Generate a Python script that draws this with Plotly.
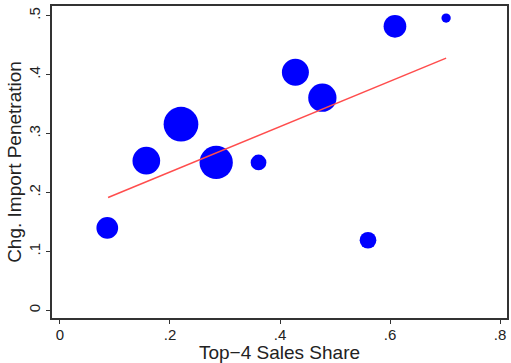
import plotly.graph_objects as go

# Data
top4_share = [0.086, 0.157, 0.220, 0.284, 0.361, 0.428, 0.477, 0.560, 0.609, 0.702]
chg_import = [0.140, 0.254, 0.316, 0.251, 0.251, 0.404, 0.361, 0.119, 0.482, 0.496]
bubble_diam = [21.7, 27.7, 34.7, 33.3, 15.7, 27.0, 28.3, 16.7, 22.7, 9.3]

fit_x = [0.0875, 0.702]
fit_y = [0.1916, 0.428]

x_ticks = [0, 0.2, 0.4, 0.6, 0.8]
x_ticklabels = ["0", ".2", ".4", ".6", ".8"]
y_ticks = [0, 0.1, 0.2, 0.3, 0.4, 0.5]
y_ticklabels = ["0", ".1", ".2", ".3", ".4", ".5"]

fig = go.Figure()
fig.add_trace(go.Scatter(
    x=top4_share, y=chg_import, mode="markers",
    marker=dict(size=bubble_diam, sizemode="diameter", color="#0000ff",
                opacity=1, line=dict(width=0)),
    showlegend=False, hoverinfo="skip"))
fig.add_trace(go.Scatter(
    x=fit_x, y=fit_y, mode="lines",
    line=dict(color="#ff4d4d", width=1.5),
    showlegend=False, hoverinfo="skip"))

font_fam = "Liberation Sans, Arial, Helvetica, sans-serif"
fig.update_layout(
    width=511, height=363,
    margin=dict(l=52, r=2, t=6, b=42),
    paper_bgcolor="white", plot_bgcolor="white",
    font=dict(family=font_fam, size=16, color="#222222"),
    xaxis=dict(range=[-0.0145, 0.8127], tickvals=x_ticks, ticktext=x_ticklabels,
               showgrid=False, zeroline=False, showline=True, mirror=True,
               linecolor="#333333", linewidth=1.5, ticks="outside", ticklen=4,
               tickcolor="#333333", tickfont=dict(size=15), ticklabelstandoff=-2,
               title=dict(text="Top\u22124 Sales Share", standoff=5)),
    yaxis=dict(range=[-0.0129, 0.5165], tickvals=y_ticks, ticktext=y_ticklabels,
               showgrid=False, zeroline=False, showline=True, mirror=True,
               linecolor="#333333", linewidth=1.5, ticks="outside", ticklen=4,
               tickcolor="#333333", tickangle=-90, tickfont=dict(size=15),
               title=dict(text="Chg. Import Penetration", standoff=0)),
)

fig.write_html("out.html", config={"displayModeBar": False},
               post_script="document.body.style.margin='0';document.body.style.padding='0';")
